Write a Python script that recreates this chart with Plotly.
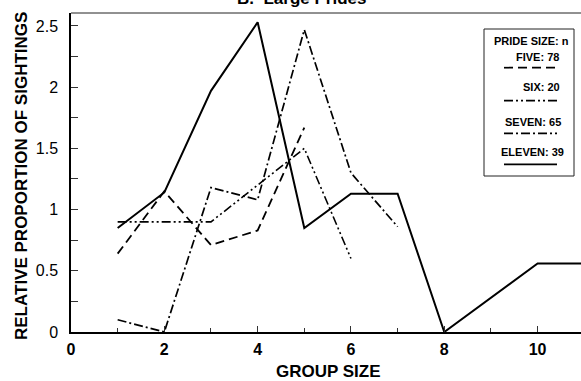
import plotly.graph_objects as go

# Data
x_five = [1, 2, 3, 4, 5]
y_five = [0.64, 1.15, 0.71, 0.83, 1.67]

x_six = [1, 2, 3, 4, 5, 6]
y_six = [0.9, 0.9, 0.9, 1.2, 1.5, 0.6]

x_seven = [1, 2, 3, 4, 5, 6, 7]
y_seven = [0.1, 0.0, 1.18, 1.08, 2.47, 1.3, 0.86]

x_eleven = [1, 2, 3, 4, 5, 6, 7, 8, 10, 11]
y_eleven = [0.85, 1.14, 1.97, 2.53, 0.85, 1.13, 1.13, 0.0, 0.56, 0.56]

legend_labels = ["FIVE: 78", "SIX: 20", "SEVEN: 65", "ELEVEN: 39"]
x_ticks = [0, 2, 4, 6, 8, 10]
x_tick_text = ["<b>0</b>", "<b>2</b>", "<b>4</b>", "<b>6</b>", "<b>8</b>", "<b>10</b>"]
y_ticks = [0, 0.5, 1, 1.5, 2, 2.5]
y_tick_text = ["0", "0.5", "1", "1.5", "2", "2.5"]

FONT = "Liberation Sans, Arial, sans-serif"
DASH_FIVE = "9px,5px"
DASH_SIX = "9px,3px,2px,3px,2px,3px"
DASH_SEVEN = "9px,3px,2px,3px"

W, H = 581, 381
L, R, T, B = 71, 0, 13, 49
PW, PH = W - L - R, H - T - B

def px(xp):
    return (xp - L) / PW

def py(yp):
    return (H - B - yp) / PH

fig = go.Figure()
series = [
    (x_five, y_five, DASH_FIVE, 1.8),
    (x_six, y_six, DASH_SIX, 1.6),
    (x_seven, y_seven, DASH_SEVEN, 1.7),
    (x_eleven, y_eleven, "solid", 2.0),
]
for xs, ys, dash, w in series:
    fig.add_trace(go.Scatter(x=xs, y=ys, mode="lines",
                             line=dict(color="black", width=w, dash=dash),
                             showlegend=False))

shapes = []
annotations = []

# top frame line
shapes.append(dict(type="line", xref="paper", yref="paper", x0=0, x1=1, y0=1, y1=1,
                   line=dict(color="#222", width=1)))

# legend box
shapes.append(dict(type="rect", xref="paper", yref="paper",
                   x0=px(484), x1=px(574), y0=py(176), y1=py(29),
                   line=dict(color="#222", width=1), fillcolor="white", layer="above"))
annotations.append(dict(text="<b>PRIDE SIZE: n</b>", xref="paper", yref="paper",
                        x=px(531), y=py(40.7), xanchor="center", yanchor="middle",
                        showarrow=False, font=dict(family=FONT, size=11, color="black")))
label_x = [537.5, 541, 533, 532]
label_y = [56.7, 87.3, 121.7, 152.3]
sample_y = [67.7, 100.7, 133.3, 164.3]
dashes = [DASH_FIVE, DASH_SIX, DASH_SEVEN, "solid"]
for lab, lx, ly, sy, d in zip(legend_labels, label_x, label_y, sample_y, dashes):
    annotations.append(dict(text="<b>" + lab + "</b>", xref="paper", yref="paper",
                            x=px(lx), y=py(ly), xanchor="center", yanchor="middle",
                            showarrow=False, font=dict(family=FONT, size=11, color="black")))
    shapes.append(dict(type="line", xref="paper", yref="paper",
                       x0=px(504), x1=px(557), y0=py(sy), y1=py(sy),
                       line=dict(color="black", width=1.7, dash=d), layer="above"))

# titles
annotations.append(dict(text="<b>B.  Large Prides</b>", xref="paper", yref="paper",
                        x=px(301), y=py(-1), xanchor="center", yanchor="middle",
                        showarrow=False, font=dict(family=FONT, size=17, color="black")))
annotations.append(dict(text="<b>GROUP SIZE</b>", xref="paper", yref="paper",
                        x=px(328), y=py(371.5), xanchor="center", yanchor="middle",
                        showarrow=False, font=dict(family=FONT, size=17, color="black")))
annotations.append(dict(text="<b>RELATIVE PROPORTION OF SIGHTINGS</b>", xref="paper", yref="paper",
                        x=px(21), y=py(176), xanchor="center", yanchor="middle", textangle=-90,
                        showarrow=False, font=dict(family=FONT, size=17, color="black")))

fig.update_layout(
    width=W, height=H,
    margin=dict(l=L, r=R, t=T, b=B, pad=0),
    paper_bgcolor="white", plot_bgcolor="white",
    font=dict(family=FONT, size=15, color="black"),
    shapes=shapes, annotations=annotations,
    xaxis=dict(range=[0, 10.93], tickvals=x_ticks, ticktext=x_tick_text, ticks="inside",
               ticklen=6, tickwidth=1,
               tickcolor="#333", showgrid=False, zeroline=False,
               showline=True, linecolor="black", linewidth=1.5,
               minor=dict(tickvals=[1, 3, 5, 7, 9], ticks="inside", ticklen=4, tickcolor="#333"),
               tickfont=dict(family=FONT, size=16, color="black"), ticklabelstandoff=2),
    yaxis=dict(range=[0, 2.606], tickvals=y_ticks, ticktext=y_tick_text, ticks="inside",
               ticklen=7, tickwidth=1, tickcolor="#333", showgrid=False, zeroline=False,
               showline=True, linecolor="black", linewidth=1.5,
               minor=dict(tickvals=[0.25, 0.75, 1.25, 1.75, 2.25], ticks="inside", ticklen=7,
                          tickcolor="#333"),
               tickfont=dict(family=FONT, size=16, color="black"), ticklabelstandoff=8),
)

fig.write_html("out.html")
